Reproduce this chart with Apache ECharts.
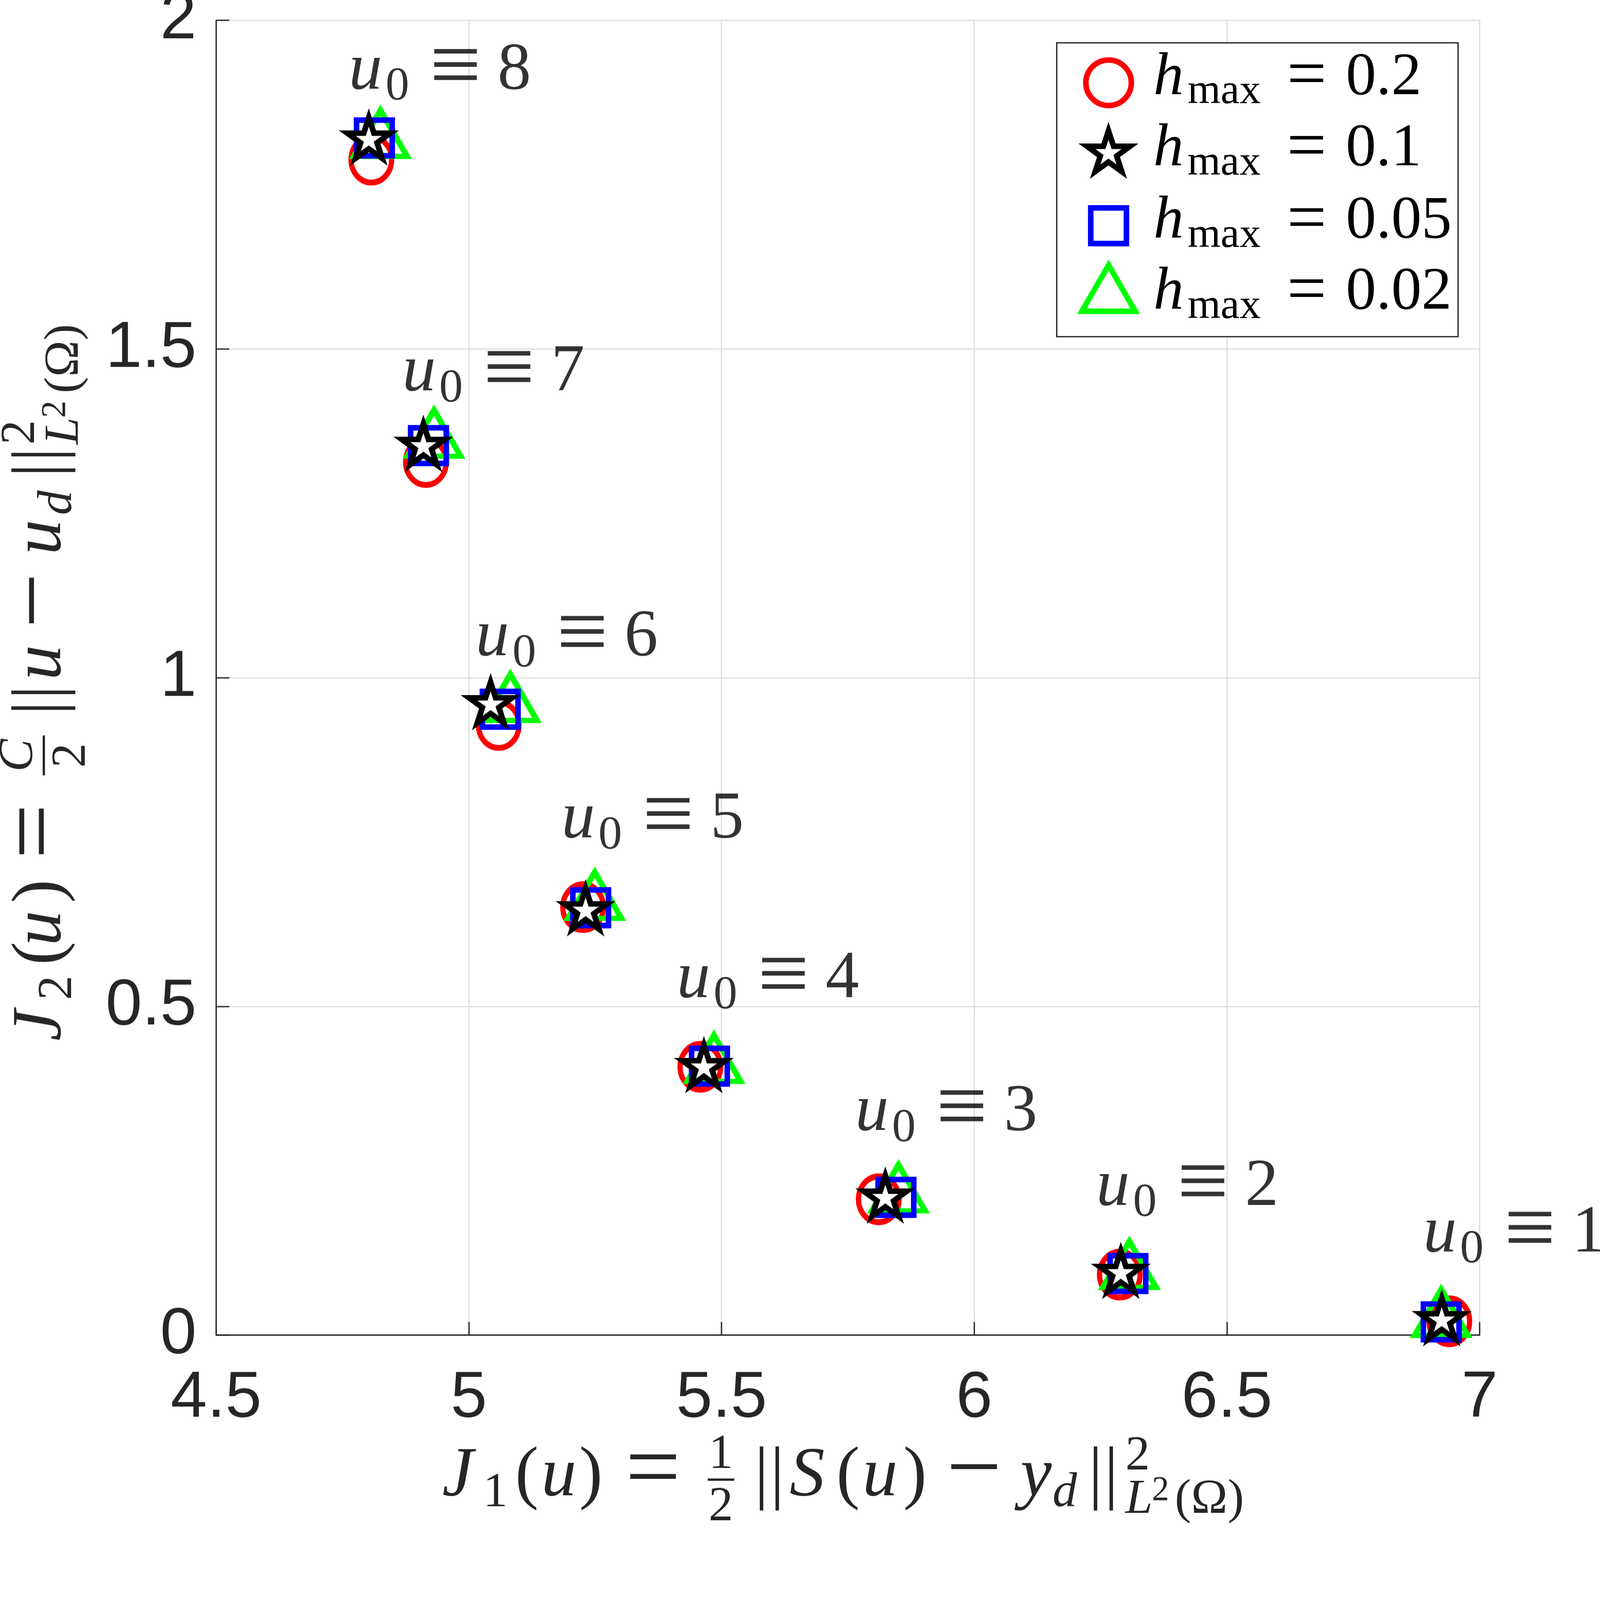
<!DOCTYPE html>
<html>
<head>
<meta charset="utf-8">
<script src="https://cdn.jsdelivr.net/npm/echarts@6/dist/echarts.min.js"></script>
<style>
html,body{margin:0;padding:0;background:#fff;overflow:hidden}
#main{width:4892px;height:4690px;transform-origin:0 0}
</style>
</head>
<body>
<div id="main"></div>
<script>
// initial guesses u0 = 1..8, one point per mesh size
const u0 = [1, 2, 3, 4, 5, 6, 7, 8];
const hmax = ['0.2', '0.1', '0.05', '0.02'];

// J1 / J2 values
const j1_h02 = [6.940, 6.288, 5.811, 5.458, 5.226, 5.059, 4.915, 4.807];
const j2_h02 = [0.021, 0.092, 0.2065, 0.408, 0.651, 0.928, 1.328, 1.788];
const j1_h01 = [6.925, 6.290, 5.824, 5.465, 5.231, 5.043, 4.910, 4.802];
const j2_h01 = [0.025, 0.097, 0.2115, 0.410, 0.6485, 0.962, 1.355, 1.821];
const j1_h005 = [6.924, 6.304, 5.845, 5.476, 5.241, 5.062, 4.920, 4.813];
const j2_h005 = [0.020, 0.0936, 0.2095, 0.409, 0.650, 0.952, 1.353, 1.821];
const j1_h002 = [6.924, 6.307, 5.850, 5.485, 5.249, 5.082, 4.931, 4.825];
const j2_h002 = [0.0346, 0.1075, 0.224, 0.421, 0.669, 0.970, 1.372, 1.828];

// where the "u0 = k" texts sit (left edge, baseline), data units
const labelX = [6.888, 6.241, 5.764, 5.411, 5.183, 5.013, 4.868, 4.762];
const labelY = [0.1214, 0.192, 0.306, 0.508, 0.751, 1.028, 1.431, 1.890];

// axis ranges
const xMin = 4.5, xMax = 7, xStep = 0.5;
const yMin = 0, yMax = 2, yStep = 0.5;

const SERIF = '"Liberation Serif", "DejaVu Serif", serif';
const SANS = '"Liberation Sans", Arial, sans-serif';
const AX = '#262626';

function pts(xs, ys) { return xs.map((x, i) => [x, ys[i]]); }

// pentagram path for the h=0.1 markers
function starPath() {
  let d = '';
  for (let k = 0; k < 10; k++) {
    const a = -Math.PI / 2 + k * Math.PI / 5;
    const r = k % 2 ? 0.382 : 1;
    d += (k ? 'L' : 'M') + (r * Math.cos(a)).toFixed(4) + ',' + (r * Math.sin(a)).toFixed(4);
  }
  return 'path://' + d + 'Z';
}
const STAR = starPath();
const ELLIPSE = 'path://M0,-1A1,1,0,1,1,0,1A1,1,0,1,1,0,-1Z';

// little math-text layout: [x, text, size, italic, baseline shift]
function piece(p, align) {
  return {
    type: 'text', x: p[0], y: p[4] - 0.32 * p[2],
    style: {
      text: p[1], font: (p[3] ? 'italic ' : '') + p[2] + 'px ' + SERIF,
      fill: AX, align: align || 'left', verticalAlign: 'middle'
    }
  };
}
function frac(cx, num, den, x0, x1, nd, dd, bd) {
  return [
    piece([cx, num, 150, num === 'C', nd], 'center'),
    piece([cx, den, 150, 0, dd], 'center'),
    {type: 'rect', shape: {x: x0, y: bd - 3.5, width: x1 - x0, height: 7}, style: {fill: AX}}
  ];
}
const F = 215, S = 150, R = 300;
const xTitle = [
  [0, 'J', F, 1, 0], [125, '1', S, 0, 30], [223, '(', F, 0, 0], [303, 'u', F, 1, 0],
  [419, ')', F, 0, 0], [560, '=', R, 0, 17], [955, '|', F, 0, 0], [1003, '|', F, 0, 0],
  [1062, 'S', F, 1, 0], [1205, '(', F, 0, 0], [1285, 'u', F, 1, 0], [1410, ')', F, 0, 0],
  [1542, '\u2212', R, 0, 17], [1768, 'y', F, 1, 0], [1866, 'd', S, 1, 30],
  [1976, '|', F, 0, 0], [2024, '|', F, 0, 0], [2089, '2', S, 0, -83],
  [2089, 'L', S, 1, 50], [2170, '2', 105, 0, 8], [2240, '(\u03A9)', S, 0, 50]
];
const yTitle = [
  [0, 'J', F, 1, 0], [125, '2', S, 0, 30], [232, '(', F, 0, 0], [291, 'u', F, 1, 0],
  [422, ')', F, 0, 0], [556, '=', R, 0, 17], [996, '|', F, 0, 0], [1044, '|', F, 0, 0],
  [1103, 'u', F, 1, 0], [1262, '\u2212', R, 0, 17], [1486, 'u', F, 1, 0], [1608, 'd', S, 1, 30],
  [1723, '|', F, 0, 0], [1771, '|', F, 0, 0], [1823, '2', S, 0, -83],
  [1823, 'L', S, 1, 50], [1905, '2', 105, 0, 8], [1980, '(\u03A9)', S, 0, 50]
];

// the sandbox window may be smaller than the figure: fit it, keep aspect
const dom = document.getElementById('main');
const fit = Math.min(1, window.innerWidth / 4892, window.innerHeight / 4690);
dom.style.transform = 'scale(' + fit + ')';
const chart = echarts.init(dom, null, {devicePixelRatio: fit});

const names = hmax.map(h => 'h_max = ' + h);

function marker(name, data, symbol, size, fill, stroke) {
  return {
    name: name, type: 'scatter', data: data, symbol: symbol, symbolSize: size,
    symbolKeepAspect: false,
    itemStyle: {color: fill, borderColor: stroke, borderWidth: 17, borderJoin: 'miter', borderMiterLimit: 10, opacity: 1},
    emphasis: {disabled: true}
  };
}

// legend rows: icon box, icon centre and text baseline shift (px)
const legendRows = [
  {name: names[0], icon: 'circle', w: 139, h: 139, c: 253, shift: -14},
  {name: names[1], w: 132, h: 125, c: 462, shift: -5},
  {name: names[2], w: 109, h: 109, c: 690, shift: -12},
  {name: names[3], w: 163, h: 141, c: 881, shift: 14}
];

const legendRich = {
  h: {fontFamily: SERIF, fontStyle: 'italic', fontSize: 185, lineHeight: 215, color: '#000'},
  m: {fontFamily: SERIF, fontSize: 130, lineHeight: 130, verticalAlign: 'bottom', padding: [0, 0, 0, 12], color: '#000'},
  e: {fontFamily: SERIF, fontSize: 215, lineHeight: 215, padding: [0, 59, 0, 80], color: '#000'},
  v: {fontFamily: SERIF, fontSize: 185, lineHeight: 215, color: '#000'}
};

const option = {
  backgroundColor: '#fff',
  animation: false,
  grid: {left: 661, right: 368, top: 62, bottom: 609, containLabel: false, outerBoundsMode: 'none'},
  xAxis: {
    type: 'value', min: xMin, max: xMax, interval: xStep,
    axisLine: {show: true, onZero: false, lineStyle: {color: AX, width: 4}},
    axisTick: {show: true, inside: true, length: 40, lineStyle: {color: AX, width: 4}},
    axisLabel: {margin: 95, fontFamily: SANS, fontSize: 200, color: AX},
    splitLine: {show: true, lineStyle: {color: '#dfdfdf', width: 4}}
  },
  yAxis: {
    type: 'value', min: yMin, max: yMax, interval: yStep,
    axisLine: {show: true, onZero: false, lineStyle: {color: AX, width: 4}},
    axisTick: {show: true, inside: true, length: 40, lineStyle: {color: AX, width: 4}},
    axisLabel: {margin: 60, fontFamily: SANS, fontSize: 200, color: AX},
    splitLine: {show: true, lineStyle: {color: '#dfdfdf', width: 4}}
  },
  legend: legendRows.map(r => {
    const pt = r.shift > 0 ? 2 * r.shift : 0;
    const pb = r.shift < 0 ? -2 * r.shift : 0;
    // the item box starts at whichever is higher: icon (with stroke) or text glyphs
    const top = Math.min(r.c - r.h / 2 - 8.5, r.c + r.shift - 107.5);
    const item = {name: r.name};
    if (r.icon) item.icon = r.icon;
    return {
      orient: 'vertical', left: 3381 - r.w / 2, top: top,
      padding: 0, itemWidth: r.w, itemHeight: r.h, selectedMode: false, z: 6,
      itemStyle: {borderWidth: 17, borderJoin: 'miter', borderMiterLimit: 10},
      data: [item],
      formatter: n => '{h|h}{m|max}{e|=}{v|' + n.split('= ')[1] + '}',
      textStyle: {padding: [pt, 0, pb, 132 - r.w / 2], rich: legendRich}
    };
  }),
  graphic: [
    {type: 'rect', z: 3, shape: {x: 3231, y: 131, width: 1227, height: 898},
      style: {fill: '#fff', stroke: AX, lineWidth: 4}},
    {type: 'group', x: 1352, y: 4583,
      children: xTitle.map(p => piece(p)).concat(frac(852, '1', '2', 812, 893, -87, 73, -60))},
    {type: 'group', x: 196, y: 3182, rotation: Math.PI / 2,
      children: yTitle.map(p => piece(p)).concat(frac(873, 'C', '2', 812, 934, -89, 72, -62))}
  ],
  series: [
    marker(names[0], pts(j1_h02, j2_h02), ELLIPSE, [124, 140], 'rgba(0,0,0,0)', '#ff0000'),
    marker(names[3], pts(j1_h002, j2_h002), 'triangle', [163, 141], 'rgba(0,0,0,0)', '#00ff00'),
    marker(names[2], pts(j1_h005, j2_h005), 'rect', [109, 109], 'rgba(0,0,0,0)', '#0000ff'),
    marker(names[1], pts(j1_h01, j2_h01), STAR, [132, 125], '#ffffff', '#000000'),
    {
      type: 'scatter', silent: true, symbol: 'circle', symbolSize: 1, z: 5,
      itemStyle: {color: 'rgba(0,0,0,0)'},
      data: u0.map((v, i) => [labelX[i], labelY[i], v]),
      label: {
        show: true, position: 'right', distance: 0, offset: [0, -66],
        formatter: p => '{u|u}{s|0}{e|\u2261}{d|' + p.data[2] + '}',
        rich: {
          u: {fontFamily: SERIF, fontStyle: 'italic', fontSize: 205, lineHeight: 245, color: '#000'},
          s: {fontFamily: SERIF, fontSize: 145, lineHeight: 145, verticalAlign: 'bottom', padding: [0, 0, 0, 10], color: '#000'},
          e: {fontFamily: SERIF, fontSize: 280, lineHeight: 245, padding: [0, 50, 0, 62], color: '#000'},
          d: {fontFamily: SERIF, fontSize: 205, lineHeight: 245, color: '#000'}
        }
      }
    }
  ]
};
chart.setOption(option);
</script>
</body>
</html>
